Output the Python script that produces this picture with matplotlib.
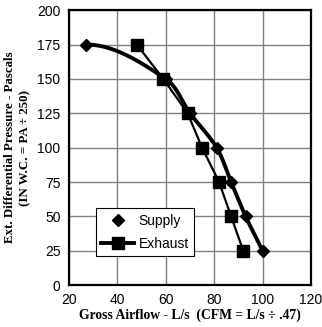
import matplotlib.pyplot as plt
import numpy as np

supply_x = [27, 60, 70, 81, 87, 93, 100]
supply_y = [175, 150, 125, 100, 75, 50, 25]
exhaust_x = [48, 59, 69, 75, 82, 87, 92]
exhaust_y = [175, 150, 125, 100, 75, 50, 25]
x_ticks = [20, 40, 60, 80, 100, 120]
y_ticks = [0, 25, 50, 75, 100, 125, 150, 175, 200]


def smooth_path(xs, ys, sx=2.42, sy=1.375, n=40):
    # bezier segments through the points, flat start like the drawn curve
    p = np.column_stack([np.array(xs) * sx, np.array(ys) * sy]).astype(float)
    k = len(p)
    tang = []
    for i in range(k):
        if i == 0:
            d = np.array([1.0, 0.0])
        elif i == k - 1:
            d = p[i] - p[i - 1]
        else:
            d = p[i + 1] - p[i - 1]
        tang.append(d / np.linalg.norm(d))
    t = np.linspace(0, 1, n)[:, None]
    out = []
    for i in range(k - 1):
        L = np.linalg.norm(p[i + 1] - p[i]) / 3
        c0, c3 = p[i], p[i + 1]
        c1 = c0 + tang[i] * L
        c2 = c3 - tang[i + 1] * L
        out.append((1 - t) ** 3 * c0 + 3 * (1 - t) ** 2 * t * c1
                   + 3 * (1 - t) * t ** 2 * c2 + t ** 3 * c3)
    out = np.vstack(out)
    return out[:, 0] / sx, out[:, 1] / sy


fig = plt.figure(figsize=(3.22, 3.27), dpi=100)
ax = fig.add_axes([0.214, 0.128, 0.752, 0.841])

cx, cy = smooth_path(supply_x, supply_y)
ax.plot(cx, cy, color="black", linewidth=2.8, zorder=3, solid_capstyle="round")
ax.plot(supply_x, supply_y, "D", color="black", markersize=6, zorder=4,
        linestyle="none", label="Supply")
ax.plot(exhaust_x, exhaust_y, color="black", linewidth=1.6, marker="s",
        markersize=8, zorder=3)
ax.plot([], [], color="black", linewidth=2.8, marker="s", markersize=8,
        label="Exhaust")

ax.set_xlim(20, 120)
ax.set_ylim(0, 200)
ax.set_xticks(x_ticks)
ax.set_yticks(y_ticks)
ax.grid(True, color="#808080", linewidth=1.0)
ax.set_axisbelow(True)
for s in ax.spines.values():
    s.set_linewidth(1.6)
ax.tick_params(length=0, labelsize=10, pad=6)
for lab in ax.get_xticklabels() + ax.get_yticklabels():
    lab.set_family("Liberation Sans")

ax.set_xlabel("Gross Airflow - L/s  (CFM = L/s \u00f7 .47)", family="Liberation Serif",
              fontweight="bold", fontsize=9.8, labelpad=1)
ax.set_ylabel("Ext. Differential Pressure - Pascals\n(IN W.C. = PA \u00f7 250)",
              family="Liberation Serif", fontweight="bold", fontsize=9.3, labelpad=4,
              linespacing=1.35)

leg = ax.legend(loc="lower left", bbox_to_anchor=(0.11, 0.105), borderaxespad=0,
                prop={"family": "Liberation Sans", "size": 10},
                fancybox=False, edgecolor="black", framealpha=1, handlelength=2.4,
                handletextpad=0.3, borderpad=0.4, labelspacing=0.65)
leg.get_frame().set_linewidth(0.8)

fig.savefig("out.png", dpi=100)
